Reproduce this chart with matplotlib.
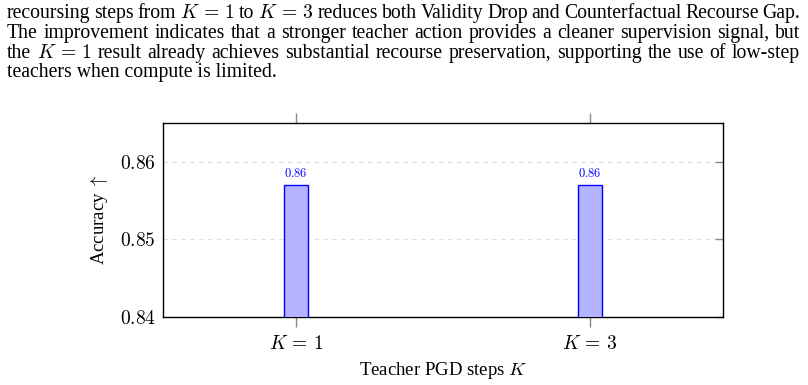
import numpy as np
import matplotlib.pyplot as plt

plt.rcParams['mathtext.fontset'] = 'cm'
plt.rcParams['font.family'] = ['Liberation Serif', 'DejaVu Serif']

# data
categories = ['$K\\,=\\,1$', '$K\\,=\\,3$']
accuracy = [0.857, 0.857]
bar_labels = ['0.86', '0.86']
yticks = [0.84, 0.85, 0.86]

# paragraph above the chart
para_lines = [
    'recoursing steps from $K\\,=\\,1$ to $K\\,=\\,3$ reduces both Validity Drop and Counterfactual Recourse Gap.',
    'The improvement indicates that a stronger teacher action provides a cleaner supervision signal, but',
    'the $K\\,=\\,1$ result already achieves substantial recourse preservation, supporting the use of low-step',
    'teachers when compute is limited.',
]

fig = plt.figure(figsize=(8.08, 3.85), dpi=100)
W, H = 808, 385
renderer = fig.canvas.get_renderer()

# justified paragraph, last line left aligned
left, right = 7, 800
baselines = [18, 38, 58, 77]
for i, (line, yb) in enumerate(zip(para_lines, baselines)):
    if i == len(para_lines) - 1:
        fig.text(left / W, 1 - yb / H, line, fontsize=14.2, ha='left', va='baseline')
        continue
    words = line.split(' ')
    txts = [fig.text(0, 1 - yb / H, w, fontsize=14.2, ha='left', va='baseline') for w in words]
    widths = [t.get_window_extent(renderer).width for t in txts]
    gap = (right - left - sum(widths)) / (len(words) - 1)
    xpos = left
    for t, w in zip(txts, widths):
        t.set_x(xpos / W)
        xpos += w + gap

ax = fig.add_axes([163 / W, 1 - 317 / H, 560 / W, 194 / H])
x = np.arange(len(categories))
bars = ax.bar(x, accuracy, width=0.082, color='#b3b3ff', edgecolor='blue', linewidth=1.0, zorder=3)
for xi, v, lab in zip(x, accuracy, bar_labels):
    ax.text(xi, v + 0.0007, '$' + lab + '$', color='blue', fontsize=9, ha='center', va='bottom')

ax.set_xlim(-0.452, 1.452)
ax.set_ylim(0.84, 0.865)
ax.set_xticks(x)
ax.set_xticklabels(categories, fontsize=14)
ax.set_yticks(yticks)
ax.set_yticklabels(['$%.2f$' % t for t in yticks], fontsize=14)

ax.yaxis.grid(True, linestyle=(0, (4, 4)), color='#dddddd', linewidth=0.8, zorder=0)
ax.set_axisbelow(True)

ax.tick_params(axis='x', direction='out', top=True, bottom=True, length=7, color='#888888', width=1, pad=6)
ax.tick_params(axis='y', direction='in', left=False, right=True, length=6, color='#888888', width=1, pad=5)

ax.set_xlabel('Teacher PGD steps $K$', fontsize=13.5, labelpad=5)
ax.set_ylabel('Accuracy $\\uparrow$', fontsize=13.5, labelpad=7)

for s in ax.spines.values():
    s.set_linewidth(1.0)

fig.savefig('out.png', dpi=100)
